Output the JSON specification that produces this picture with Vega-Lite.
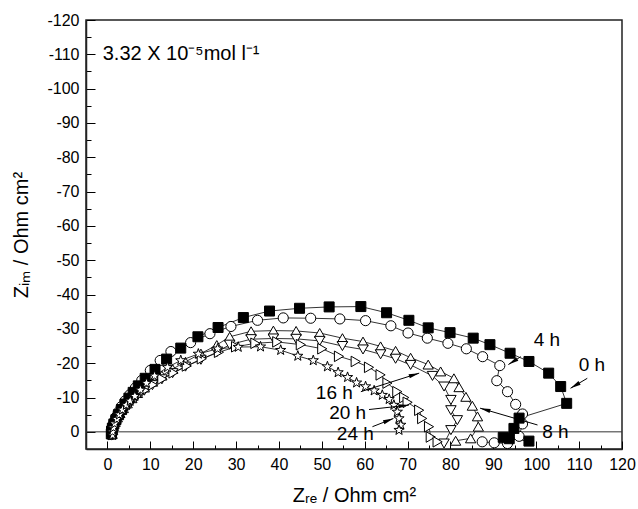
{
"$schema":"https://vega.github.io/schema/vega-lite/v6.json",
"width":536,"height":429,
"autosize":{"type":"none"},
"padding":{"left":86,"top":20,"right":16,"bottom":60},
"config":{"font":"Liberation Sans","view":{"stroke":"#222","strokeWidth":1.5},
"axis":{"grid":false,"domainColor":"#222","domainWidth":1.5,"tickColor":"#000","tickWidth":1,"labelFontSize":16,"labelColor":"#000","titleFontSize":20,"titleFontWeight":"normal","titleColor":"#000","labelFlush":false,"labelOverlap":false}},
"encoding":{
  "x":{"type":"quantitative","scale":{"domain":[-5,120],"nice":false,"zero":false},
   "axis":{"title":"Zᵣₑ / Ohm cm²","values":[0,5,10,15,20,25,30,35,40,45,50,55,60,65,70,75,80,85,90,95,100,105,110,115,120],
    "labelExpr":"datum.value % 10 === 0 ? datum.label : ''",
    "tickSize":{"condition":{"test":"datum.value % 10 === 0","value":-8},"value":-4},
    "labelPadding":15,"titlePadding":9}},
  "y":{"type":"quantitative","scale":{"domain":[-120,5],"nice":false,"zero":false,"reverse":true},
   "axis":{"title":"Zᵢₘ / Ohm cm²","values":[-120,-115,-110,-105,-100,-95,-90,-85,-80,-75,-70,-65,-60,-55,-50,-45,-40,-35,-30,-25,-20,-15,-10,-5,0],
    "labelExpr":"datum.value % 10 === 0 ? '' + datum.value : ''",
    "tickSize":{"condition":{"test":"datum.value % 10 === 0","value":-9},"value":-5},
    "labelPadding":16,"titlePadding":15}}
},
"datasets":{
"pts":[
{"s":"4 h","i":0,"x":1.0,"y":0.8},{"s":"4 h","i":1,"x":1.0,"y":-0.3},{"s":"4 h","i":2,"x":1.2,"y":-1.5},{"s":"4 h","i":3,"x":1.5,"y":-2.8},{"s":"4 h","i":4,"x":1.9,"y":-4.2},{"s":"4 h","i":5,"x":2.5,"y":-5.7},{"s":"4 h","i":6,"x":3.2,"y":-7.3},{"s":"4 h","i":7,"x":4.1,"y":-9.0},{"s":"4 h","i":8,"x":5.2,"y":-10.8},{"s":"4 h","i":9,"x":6.5,"y":-12.8},{"s":"4 h","i":10,"x":8.0,"y":-15.0},{"s":"4 h","i":11,"x":10.0,"y":-17.9},{"s":"4 h","i":12,"x":12.3,"y":-20.8},{"s":"4 h","i":13,"x":14.8,"y":-23.4},{"s":"4 h","i":14,"x":19.4,"y":-26.0},{"s":"4 h","i":15,"x":23.9,"y":-28.6},{"s":"4 h","i":16,"x":28.8,"y":-30.7},{"s":"4 h","i":17,"x":35.0,"y":-32.5},{"s":"4 h","i":18,"x":41.0,"y":-33.2},{"s":"4 h","i":19,"x":47.4,"y":-33.1},{"s":"4 h","i":20,"x":54.2,"y":-32.9},{"s":"4 h","i":21,"x":60.2,"y":-32.4},{"s":"4 h","i":22,"x":66.1,"y":-30.9},{"s":"4 h","i":23,"x":70.1,"y":-28.8},{"s":"4 h","i":24,"x":74.6,"y":-27.3},{"s":"4 h","i":25,"x":79.4,"y":-25.8},{"s":"4 h","i":26,"x":83.7,"y":-24.2},{"s":"4 h","i":27,"x":87.5,"y":-21.9},{"s":"4 h","i":28,"x":91.5,"y":-19.3},{"s":"4 h","i":29,"x":90.8,"y":-14.9},{"s":"4 h","i":30,"x":93.3,"y":-11.7},{"s":"4 h","i":31,"x":95.2,"y":-8.0},{"s":"4 h","i":32,"x":96.8,"y":-5.2},{"s":"4 h","i":33,"x":96.8,"y":-2.3},{"s":"4 h","i":34,"x":96.0,"y":1.3},{"s":"4 h","i":35,"x":93.3,"y":3.4},{"s":"4 h","i":36,"x":90.2,"y":3.2},{"s":"4 h","i":37,"x":87.4,"y":2.9},
{"s":"8 h","i":0,"x":1.1,"y":0.6},{"s":"8 h","i":1,"x":1.2,"y":-0.5},{"s":"8 h","i":2,"x":1.4,"y":-1.7},{"s":"8 h","i":3,"x":1.8,"y":-2.9},{"s":"8 h","i":4,"x":2.3,"y":-4.2},{"s":"8 h","i":5,"x":2.9,"y":-5.5},{"s":"8 h","i":6,"x":3.7,"y":-6.9},{"s":"8 h","i":7,"x":4.6,"y":-8.3},{"s":"8 h","i":8,"x":5.7,"y":-9.8},{"s":"8 h","i":9,"x":7.0,"y":-11.3},{"s":"8 h","i":10,"x":8.6,"y":-12.9},{"s":"8 h","i":11,"x":10.5,"y":-14.6},{"s":"8 h","i":12,"x":12.7,"y":-16.4},{"s":"8 h","i":13,"x":15.2,"y":-18.3},{"s":"8 h","i":14,"x":18.2,"y":-20.4},{"s":"8 h","i":15,"x":21.8,"y":-22.8},{"s":"8 h","i":16,"x":25.5,"y":-25.3},{"s":"8 h","i":17,"x":28.5,"y":-27.7},{"s":"8 h","i":18,"x":33.5,"y":-29.3},{"s":"8 h","i":19,"x":38.7,"y":-29.5},{"s":"8 h","i":20,"x":44.0,"y":-29.4},{"s":"8 h","i":21,"x":49.5,"y":-28.8},{"s":"8 h","i":22,"x":54.8,"y":-27.3},{"s":"8 h","i":23,"x":59.6,"y":-26.3},{"s":"8 h","i":24,"x":63.7,"y":-24.9},{"s":"8 h","i":25,"x":67.2,"y":-23.6},{"s":"8 h","i":26,"x":70.7,"y":-21.6},{"s":"8 h","i":27,"x":74.8,"y":-19.6},{"s":"8 h","i":28,"x":77.7,"y":-17.6},{"s":"8 h","i":29,"x":80.8,"y":-15.6},{"s":"8 h","i":30,"x":82.0,"y":-13.0},{"s":"8 h","i":31,"x":83.6,"y":-10.2},{"s":"8 h","i":32,"x":85.1,"y":-7.6},{"s":"8 h","i":33,"x":86.3,"y":-4.5},{"s":"8 h","i":34,"x":86.5,"y":-1.5},{"s":"8 h","i":35,"x":84.7,"y":1.9},{"s":"8 h","i":36,"x":81.2,"y":2.6},
{"s":"16 h","i":0,"x":1.1,"y":1.0},{"s":"16 h","i":1,"x":1.2,"y":0.0},{"s":"16 h","i":2,"x":1.4,"y":-1.2},{"s":"16 h","i":3,"x":1.8,"y":-2.4},{"s":"16 h","i":4,"x":2.3,"y":-3.6},{"s":"16 h","i":5,"x":2.9,"y":-4.9},{"s":"16 h","i":6,"x":3.7,"y":-6.2},{"s":"16 h","i":7,"x":4.6,"y":-7.6},{"s":"16 h","i":8,"x":5.7,"y":-9.0},{"s":"16 h","i":9,"x":7.0,"y":-10.5},{"s":"16 h","i":10,"x":8.6,"y":-12.0},{"s":"16 h","i":11,"x":10.5,"y":-13.6},{"s":"16 h","i":12,"x":12.7,"y":-15.3},{"s":"16 h","i":13,"x":15.2,"y":-17.1},{"s":"16 h","i":14,"x":18.2,"y":-19.0},{"s":"16 h","i":15,"x":21.8,"y":-21.0},{"s":"16 h","i":16,"x":25.5,"y":-23.2},{"s":"16 h","i":17,"x":28.5,"y":-25.4},{"s":"16 h","i":18,"x":33.5,"y":-27.0},{"s":"16 h","i":19,"x":38.7,"y":-27.2},{"s":"16 h","i":20,"x":44.0,"y":-27.1},{"s":"16 h","i":21,"x":49.5,"y":-26.5},{"s":"16 h","i":22,"x":54.8,"y":-25.0},{"s":"16 h","i":23,"x":59.6,"y":-24.0},{"s":"16 h","i":24,"x":63.7,"y":-22.6},{"s":"16 h","i":25,"x":67.2,"y":-21.3},{"s":"16 h","i":26,"x":70.7,"y":-19.5},{"s":"16 h","i":27,"x":75.8,"y":-16.3},{"s":"16 h","i":28,"x":78.5,"y":-13.2},{"s":"16 h","i":29,"x":80.1,"y":-9.3},{"s":"16 h","i":30,"x":80.1,"y":-6.3},{"s":"16 h","i":31,"x":81.6,"y":-3.4},{"s":"16 h","i":32,"x":80.1,"y":-0.5},{"s":"16 h","i":33,"x":78.5,"y":3.4},
{"s":"20 h","i":0,"x":1.2,"y":0.8},{"s":"20 h","i":1,"x":1.3,"y":-0.3},{"s":"20 h","i":2,"x":1.5,"y":-1.4},{"s":"20 h","i":3,"x":1.9,"y":-2.6},{"s":"20 h","i":4,"x":2.4,"y":-3.8},{"s":"20 h","i":5,"x":3.0,"y":-5.1},{"s":"20 h","i":6,"x":3.8,"y":-6.4},{"s":"20 h","i":7,"x":4.7,"y":-7.8},{"s":"20 h","i":8,"x":5.8,"y":-9.2},{"s":"20 h","i":9,"x":7.1,"y":-10.6},{"s":"20 h","i":10,"x":8.7,"y":-12.1},{"s":"20 h","i":11,"x":10.6,"y":-13.7},{"s":"20 h","i":12,"x":12.8,"y":-15.4},{"s":"20 h","i":13,"x":15.4,"y":-17.2},{"s":"20 h","i":14,"x":18.5,"y":-19.2},{"s":"20 h","i":15,"x":22.0,"y":-21.3},{"s":"20 h","i":16,"x":26.0,"y":-23.2},{"s":"20 h","i":17,"x":30.0,"y":-24.8},{"s":"20 h","i":18,"x":34.5,"y":-25.8},{"s":"20 h","i":19,"x":39.6,"y":-26.2},{"s":"20 h","i":20,"x":45.1,"y":-25.4},{"s":"20 h","i":21,"x":50.1,"y":-24.2},{"s":"20 h","i":22,"x":54.0,"y":-22.0},{"s":"20 h","i":23,"x":57.9,"y":-20.5},{"s":"20 h","i":24,"x":61.0,"y":-18.8},{"s":"20 h","i":25,"x":63.7,"y":-16.6},{"s":"20 h","i":26,"x":65.3,"y":-14.2},{"s":"20 h","i":27,"x":67.6,"y":-11.7},{"s":"20 h","i":28,"x":69.2,"y":-10.0},{"s":"20 h","i":29,"x":70.0,"y":-8.6},{"s":"20 h","i":30,"x":72.7,"y":-6.3},{"s":"20 h","i":31,"x":73.4,"y":-3.9},{"s":"20 h","i":32,"x":75.0,"y":-1.5},{"s":"20 h","i":33,"x":75.4,"y":1.5},{"s":"20 h","i":34,"x":77.0,"y":2.9},
{"s":"0 h","i":0,"x":0.9,"y":0.6},{"s":"0 h","i":1,"x":0.95,"y":-0.2},{"s":"0 h","i":2,"x":1.15,"y":-1.1},{"s":"0 h","i":3,"x":1.5,"y":-2.3},{"s":"0 h","i":4,"x":2.0,"y":-3.6},{"s":"0 h","i":5,"x":2.6,"y":-5.0},{"s":"0 h","i":6,"x":3.3,"y":-6.5},{"s":"0 h","i":7,"x":4.1,"y":-8.1},{"s":"0 h","i":8,"x":5.0,"y":-9.8},{"s":"0 h","i":9,"x":6.0,"y":-11.5},{"s":"0 h","i":10,"x":7.2,"y":-13.4},{"s":"0 h","i":11,"x":8.8,"y":-15.6},{"s":"0 h","i":12,"x":11.1,"y":-18.2},{"s":"0 h","i":13,"x":13.8,"y":-21.2},{"s":"0 h","i":14,"x":17.1,"y":-24.4},{"s":"0 h","i":15,"x":21.1,"y":-27.7},{"s":"0 h","i":16,"x":25.8,"y":-30.4},{"s":"0 h","i":17,"x":31.7,"y":-33.3},{"s":"0 h","i":18,"x":37.8,"y":-35.2},{"s":"0 h","i":19,"x":44.8,"y":-36.0},{"s":"0 h","i":20,"x":51.7,"y":-36.4},{"s":"0 h","i":21,"x":59.1,"y":-36.5},{"s":"0 h","i":22,"x":65.1,"y":-34.7},{"s":"0 h","i":23,"x":70.3,"y":-32.5},{"s":"0 h","i":24,"x":74.8,"y":-30.3},{"s":"0 h","i":25,"x":79.9,"y":-28.9},{"s":"0 h","i":26,"x":85.3,"y":-27.3},{"s":"0 h","i":27,"x":89.2,"y":-25.4},{"s":"0 h","i":28,"x":93.9,"y":-22.9},{"s":"0 h","i":29,"x":98.3,"y":-20.5},{"s":"0 h","i":30,"x":102.9,"y":-17.1},{"s":"0 h","i":31,"x":105.7,"y":-13.2},{"s":"0 h","i":32,"x":107.1,"y":-8.3},{"s":"0 h","i":33,"x":96.0,"y":-4.0},{"s":"0 h","i":34,"x":94.8,"y":-1.0},{"s":"0 h","i":35,"x":92.3,"y":1.6},{"s":"0 h","i":36,"x":93.7,"y":2.0},{"s":"0 h","i":37,"x":98.3,"y":2.7},
{"s":"24 h","i":0,"x":1.2,"y":1.0},{"s":"24 h","i":1,"x":1.2,"y":0.0},{"s":"24 h","i":2,"x":1.4,"y":-1.2},{"s":"24 h","i":3,"x":1.7,"y":-2.4},{"s":"24 h","i":4,"x":2.2,"y":-3.7},{"s":"24 h","i":5,"x":2.8,"y":-5.0},{"s":"24 h","i":6,"x":3.5,"y":-6.4},{"s":"24 h","i":7,"x":4.4,"y":-7.8},{"s":"24 h","i":8,"x":5.3,"y":-9.0},{"s":"24 h","i":9,"x":6.4,"y":-10.4},{"s":"24 h","i":10,"x":7.7,"y":-12.2},{"s":"24 h","i":11,"x":9.1,"y":-14.2},{"s":"24 h","i":12,"x":11.0,"y":-16.3},{"s":"24 h","i":13,"x":14.0,"y":-18.8},{"s":"24 h","i":14,"x":17.1,"y":-20.8},{"s":"24 h","i":15,"x":21.2,"y":-22.7},{"s":"24 h","i":16,"x":25.7,"y":-24.2},{"s":"24 h","i":17,"x":30.5,"y":-24.7},{"s":"24 h","i":18,"x":35.7,"y":-24.8},{"s":"24 h","i":19,"x":40.4,"y":-23.8},{"s":"24 h","i":20,"x":44.4,"y":-22.1},{"s":"24 h","i":21,"x":48.0,"y":-20.8},{"s":"24 h","i":22,"x":51.3,"y":-19.0},{"s":"24 h","i":23,"x":53.8,"y":-17.3},{"s":"24 h","i":24,"x":56.0,"y":-15.9},{"s":"24 h","i":25,"x":58.1,"y":-14.3},{"s":"24 h","i":26,"x":60.2,"y":-13.2},{"s":"24 h","i":27,"x":62.2,"y":-12.0},{"s":"24 h","i":28,"x":64.1,"y":-10.7},{"s":"24 h","i":29,"x":65.7,"y":-9.5},{"s":"24 h","i":30,"x":66.8,"y":-7.8},{"s":"24 h","i":31,"x":67.6,"y":-5.8},{"s":"24 h","i":32,"x":68.0,"y":-3.9},{"s":"24 h","i":33,"x":68.4,"y":-2.0},{"s":"24 h","i":34,"x":68.0,"y":-0.5}
],
"notes":[
{"t":"4 h","x":99.4,"y":-26.8,"ax":96.4,"ay":-21.9,"tx":93.5,"ty":-19.6},
{"t":"0 h","x":109.9,"y":-19.5,"ax":111.9,"ay":-15.6,"tx":108.0,"ty":-12.7},
{"t":"8 h","x":101.4,"y":0,"ax":100.3,"ay":-2.0,"tx":86.9,"ty":-6.9},
{"t":"16 h","x":48.6,"y":-11.4,"ax":59.1,"ay":-11.7,"tx":72.7,"ty":-17.1},
{"t":"20 h","x":51.7,"y":-5.6,"ax":61.0,"ay":-6.5,"tx":70.3,"ty":-7.8},
{"t":"24 h","x":53.5,"y":0.5,"ax":61.8,"ay":-1.5,"tx":66.7,"ty":-3.9}
]},
"layer":[
{"data":{"name":"pts"},
 "mark":{"type":"line","color":"#000","strokeWidth":0.8,"clip":true},
 "encoding":{
  "x":{"field":"x"},
  "y":{"field":"y"},
  "detail":{"field":"s"},
  "order":{"field":"i","type":"quantitative"}}},
{"data":{"values":[{"z":0}]},
 "mark":{"type":"rule","color":"#333","strokeWidth":1},
 "encoding":{"y":{"field":"z"}}},
{"data":{"name":"pts"},
 "mark":{"type":"point","filled":false,"stroke":"#000","strokeWidth":1,"opacity":1,"clip":true},
 "encoding":{
  "x":{"field":"x"},
  "y":{"field":"y"},
  "shape":{"field":"s","type":"nominal","legend":null,"scale":{"domain":["0 h","4 h","8 h","16 h","20 h","24 h"],"range":["square","circle","triangle-up","triangle-down","triangle-right","M0,-1L0.235,-0.324L0.951,-0.309L0.38,0.124L0.588,0.809L0,0.4L-0.588,0.809L-0.38,0.124L-0.951,-0.309L-0.235,-0.324Z"]}},
  "fill":{"field":"s","type":"nominal","legend":null,"scale":{"domain":["0 h","4 h","8 h","16 h","20 h","24 h"],"range":["#000","#fff","#fff","#fff","#fff","#fff"]}},
  "size":{"field":"s","type":"nominal","legend":null,"scale":{"domain":["0 h","4 h","8 h","16 h","20 h","24 h"],"range":[100,115,175,175,175,140]}},
  "fillOpacity":{"value":1}}},
{"data":{"name":"notes"},
 "mark":{"type":"rule","color":"#000","strokeWidth":1},
 "encoding":{"x":{"field":"ax"},"y":{"field":"ay"},"x2":{"field":"tx"},"y2":{"field":"ty"}}},
{"data":{"name":"notes"},
 "transform":[{"calculate":"atan2((datum.tx-datum.ax)*4.288, -(datum.ty-datum.ay)*3.42)*180/PI","as":"ang"}],
 "mark":{"type":"point","shape":"M0,0L0.4,2L-0.4,2Z","filled":true,"color":"#000","size":110,"opacity":1},
 "encoding":{"x":{"field":"tx"},"y":{"field":"ty"},"angle":{"field":"ang","type":"quantitative","scale":null}}},
{"data":{"name":"notes"},
 "mark":{"type":"text","align":"left","baseline":"middle","fontSize":19,"color":"#000"},
 "encoding":{"x":{"field":"x"},"y":{"field":"y"},"text":{"field":"t"}}},
{"data":{"values":[{"t":"3.32 X 10⁻⁵mol l⁻¹","x":-1.1,"y":-110}]},
 "mark":{"type":"text","align":"left","baseline":"middle","fontSize":20,"color":"#000"},
 "encoding":{"x":{"field":"x"},"y":{"field":"y"},"text":{"field":"t"}}}
]
}
